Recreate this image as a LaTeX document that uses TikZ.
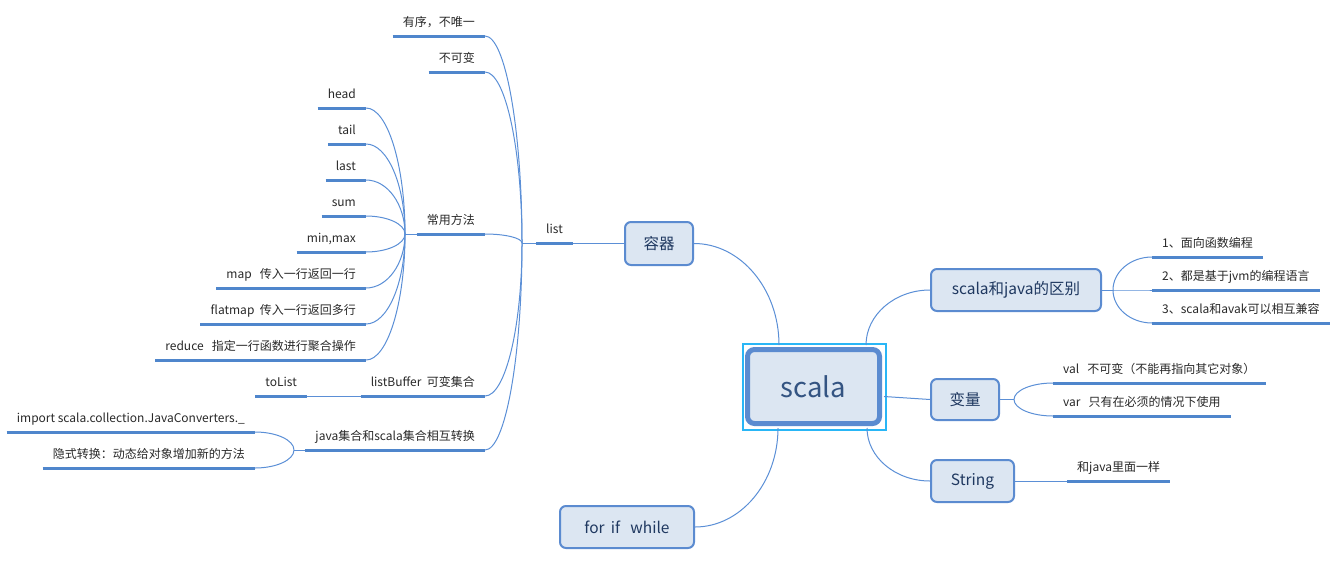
\documentclass[tikz,border=0pt]{standalone}
\usepackage{fontspec}
\setmainfont{Noto Sans CJK SC}
\usetikzlibrary{calc}
\definecolor{boxfill}{RGB}{220,230,242}
\definecolor{boxdraw}{RGB}{91,139,208}
\definecolor{boxtext}{RGB}{31,56,96}
\definecolor{scalatext}{RGB}{52,84,130}
\definecolor{cyanc}{RGB}{41,182,246}
\definecolor{ulinec}{RGB}{79,134,204}
\definecolor{connc}{RGB}{91,143,214}
\definecolor{leaftext}{RGB}{40,40,40}
% quarter-ellipse connector: vertical at #1, horizontal at #2
\newcommand{\mmconn}[2]{\draw[conn] (#1) .. controls ($(#1)!0.55!(#1 |- #2)$) and ($(#2)!0.55!(#1 |- #2)$) .. (#2);}
\begin{document}
\begin{tikzpicture}[x=1pt,y=-1pt,
  box/.style={draw=boxdraw, line width=2pt, fill=boxfill, rounded corners=6pt,
    font=\fontsize{15.5}{18}\selectfont, text=boxtext, inner sep=0pt, minimum height=42pt},
  leafL/.style={anchor=south east, inner xsep=10pt, inner ysep=0pt, text height=10pt,
    text depth=9.5pt, font=\fontsize{12}{14}\selectfont, text=leaftext},
  leafR/.style={leafL, anchor=south west},
  uline/.style={draw=ulinec, line width=3pt},
  conn/.style={draw=connc, line width=1pt},
]
\useasboundingbox (0,0) rectangle (1337,562);

% main nodes
\node[draw=cyanc, line width=2pt, minimum width=143pt, minimum height=85.5pt, inner sep=0pt] (scalasel) at (814,386.8) {};
\node[draw=boxdraw, line width=5pt, fill=boxfill, rounded corners=7pt, minimum width=132pt,
  minimum height=74pt, inner sep=0pt, text=scalatext, font=\fontsize{27.5}{30}\selectfont] (scala) at (813.5,386.5) {scala};
\node[box, minimum width=68pt, minimum height=43pt] (rong) at (659,243.5) {容器};
\node[box, minimum width=170pt] (sj) at (1016,290) {scala和java的区别};
\node[box, minimum width=68pt, minimum height=41pt] (bl) at (965,399.5) {变量};
\node[box, minimum width=83pt] (str) at (972.5,481) {String};
\node[box, minimum width=134pt] (loop) at (627,527) {for\ \,if\ \ \ while};

% ports of scala
\coordinate (pNW) at ($(scala.north)+(-34.5,-2)$);
\coordinate (pNE) at ($(scala.north)+(52.5,-2)$);
\coordinate (pE) at ($(scala.east)+(2,10)$);
\coordinate (pSE) at ($(scala.south)+(53.5,2)$);
\coordinate (pSW) at ($(scala.south)+(-35.5,2)$);

% connectors from scala
\mmconn{pNW}{rong.east}
\mmconn{pNE}{sj.west}
\draw[conn] (pE) .. controls ($(pE)!0.5!(bl.west)$) .. (bl.west);
\mmconn{pSE}{str.west}
\mmconn{pSW}{loop.east}

% left side: list
\node[leafR] (list) at (536,243) {list};
\coordinate (fL) at (522,243);
\node[leafL] (L1) at (485,36) {有序，不唯一};
\node[leafL] (L2) at (485,72) {不可变};
\node[leafL] (L3) at (485,234) {常用方法};
\node[leafL] (L4) at (485,396) {listBuffer\ \ 可变集合};
\node[leafL] (L5) at (485,450) {java集合和scala集合相互转换};

\coordinate (fM) at (405,234);
\node[leafL] (M1) at (366,108) {head};
\node[leafL] (M2) at (366,144) {tail};
\node[leafL] (M3) at (366,180) {last};
\node[leafL] (M4) at (366,216) {sum};
\node[leafL] (M5) at (366,252) {min,max};
\node[leafL] (M6) at (366,288) {map\ \ \ 传入一行返回一行};
\node[leafL] (M7) at (366,324) {flatmap\ \ 传入一行返回多行};
\node[leafL] (M8) at (366,360) {reduce\ \ \ 指定一行函数进行聚合操作};

\node[leafL] (toList) at (307,396) {toList};

\coordinate (fJ) at (294,450);
\node[leafL] (J1) at (255,432) {import scala.collection.JavaConverters.\_};
\node[leafL] (J2) at (255,468) {隐式转换：动态给对象增加新的方法};

% right side leaves
\coordinate (fR) at (1113,290);
\node[leafR] (R1) at (1152,257) {1、面向函数编程};
\node[leafR] (R2) at (1152,290) {2、都是基于jvm的编程语言};
\node[leafR] (R3) at (1152,323) {3、scala和avak可以相互兼容};

\coordinate (fV) at (1014,399.5);
\node[leafR] (V1) at (1053,383) {val\ \ \ 不可变（不能再指向其它对象）};
\node[leafR] (V2) at (1053,416) {var\ \ \ 只有在必须的情况下使用};

\node[leafR] (S1) at (1067,481) {和java里面一样};

% underlines
\foreach \n in {list,L1,L2,L3,L4,L5,M1,M2,M3,M4,M5,M6,M7,M8,toList,J1,J2,R1,R2,R3,V1,V2,S1}
  \draw[uline] (\n.south west) -- (\n.south east);

% connectors
\draw[conn] (rong.west |- list.south east) -- (list.south east);
\draw[conn] (list.south west) -- (fL);
\foreach \n in {L1,L2,L3,L4,L5}
  \mmconn{fL}{\n.south east}
\draw[conn] (L3.south west) -- (fM);
\foreach \n in {M1,M2,M3,M4,M5,M6,M7,M8}
  \mmconn{fM}{\n.south east}
\draw[conn] (toList.south east) -- (L4.south west);
\draw[conn] (L5.south west) -- (fJ);
\foreach \n in {J1,J2}
  \mmconn{fJ}{\n.south east}
\draw[conn] (sj.east) -- (fR);
\foreach \n in {R1,R2,R3}
  \mmconn{fR}{\n.south west}
\draw[conn] (bl.east) -- (fV);
\foreach \n in {V1,V2}
  \mmconn{fV}{\n.south west}
\draw[conn] (str.east) -- (S1.south west);
\end{tikzpicture}
\end{document}
